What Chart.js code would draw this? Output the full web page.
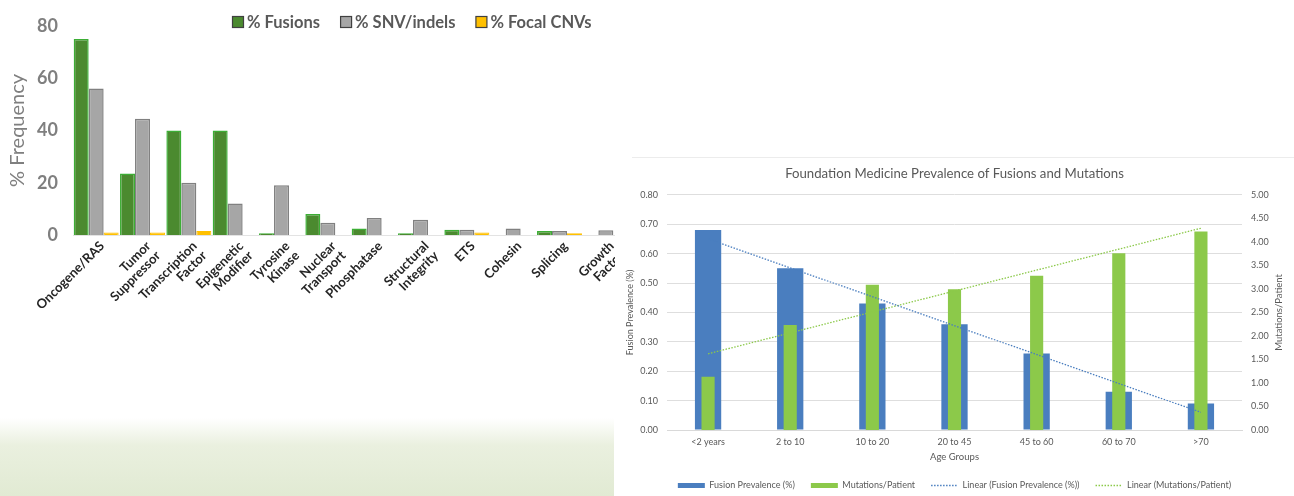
<!DOCTYPE html>
<html>
<head>
<meta charset="utf-8">
<script src="https://cdn.jsdelivr.net/npm/chart.js@4.4.1/dist/chart.umd.min.js"></script>
<style>
  html, body { margin: 0; padding: 0; background: #ffffff; }
  body { width: 1294px; height: 496px; position: relative; overflow: hidden; font-family: Lato, "Open Sans", sans-serif; }
  #grad { position: absolute; left: 0; top: 418px; width: 614px; height: 78px;
          background: linear-gradient(to bottom, rgba(226,235,212,0) 0%, #eaf0df 35%, #e1ead3 100%); }
  #leftWrap { position: absolute; left: 0; top: 0; width: 680px; height: 330px; }
  #rightWrap { position: absolute; left: 615px; top: 150px; width: 679px; height: 350px; background: #ffffff; }
  #rightTopLine { position: absolute; left: 632px; top: 157px; width: 662px; height: 1px; background: #ececec; }
</style>
</head>
<body>
<div id="grad"></div>
<div id="leftWrap"><canvas id="left" width="680" height="330"></canvas></div>
<div id="rightWrap"><canvas id="right" width="679" height="350"></canvas></div>
<div id="rightTopLine"></div>
<script>
// ---------- Left chart data ----------
const pathwayCategories = [
  "Oncogene/RAS", ["Tumor", "Suppressor"], ["Transcription", "Factor"], ["Epigenetic", "Modifier"],
  ["Tyrosine", "Kinase"], ["Nuclear", "Transport"], "Phosphatase", ["Structural", "Integrity"],
  "ETS", "Cohesin", "Splicing", ["Growth", "Factor"]
];
const fusionsPct   = [75, 23.5, 40, 40, 0.7, 8, 2.5, 0.7, 2, 0, 1.5, 0];
const snvIndelsPct = [56, 44.5, 20, 12, 19, 4.7, 6.5, 5.8, 2, 2.5, 1.5, 1.8];
const focalCnvPct  = [1, 1, 1.5, 0, 0, 0, 0, 0, 1, 0, 0.7, 0];
const frequencyTicks = [0, 20, 40, 60, 80];

// ---------- Right chart data ----------
const ageGroups = ["<2 years", "2 to 10", "10 to 20", "20 to 45", "45 to 60", "60 to 70", ">70"];
const fusionPrevalence = [0.68, 0.55, 0.43, 0.36, 0.26, 0.13, 0.09];
const mutationsPerPatient = [1.13, 2.23, 3.09, 2.99, 3.28, 3.76, 4.22];
// trendline end points
const fusionTrend = [0.65, null, null, null, null, null, 0.06];
const mutationTrend = [1.62, null, null, null, null, null, 4.29];

// ---------- Left chart ----------
const freeLegend = {
  id: 'freeLegend',
  afterDraw(chart, args, opts) {
    const ctx = chart.ctx;
    ctx.save();
    ctx.font = 'bold 16.5px Lato';
    ctx.textBaseline = 'middle';
    let x = opts.x;
    const y = opts.y;
    chart.data.datasets.forEach(ds => {
      ctx.fillStyle = ds.backgroundColor;
      ctx.fillRect(x + 0.5, y - 5.5, 11, 11);
      ctx.strokeStyle = '#404040';
      ctx.lineWidth = 1.2;
      ctx.strokeRect(x + 0.5, y - 5.5, 11, 11);
      ctx.fillStyle = '#595959';
      ctx.fillText(ds.label, x + 15, y + 0.5);
      x += 15 + ctx.measureText(ds.label).width + 20;
    });
    ctx.restore();
  }
};

new Chart(document.getElementById('left'), {
  type: 'bar',
  data: {
    labels: pathwayCategories,
    datasets: [
      { label: '% Fusions', data: fusionsPct, backgroundColor: '#4b8a2f', borderColor: '#3cae35', borderWidth: 1.5 },
      { label: '% SNV/indels', data: snvIndelsPct, backgroundColor: '#a6a6a6', borderColor: '#808080', borderWidth: 1.5 },
      { label: '% Focal CNVs', data: focalCnvPct, backgroundColor: '#ffc000', borderColor: '#ffc000', borderWidth: 1 }
    ]
  },
  options: {
    responsive: false,
    animation: false,
    categoryPercentage: 0.97,
    barPercentage: 1,
    layout: { padding: { top: 15, right: 51, left: 0, bottom: 0 } },
    plugins: {
      legend: { display: false },
      tooltip: { enabled: false },
      freeLegend: { x: 232, y: 22 }
    },
    scales: {
      x: {
        grid: { display: false, drawTicks: false },
        border: { display: true, color: '#e3e3e3' },
        ticks: {
          color: '#262626', font: { family: 'Lato', weight: 'bold', size: 13, lineHeight: 1.05 },
          minRotation: 45, maxRotation: 45, autoSkip: false, padding: 4, labelOffset: 6
        },
        afterFit(scale) { scale.height = 95; }
      },
      y: {
        min: 0, max: 80,
        afterBuildTicks(scale) { scale.ticks = frequencyTicks.map(v => ({ value: v })); },
        grid: { display: false, drawTicks: false },
        border: { display: false },
        ticks: { color: '#7f7f7f', font: { family: 'Lato', weight: 'bold', size: 18 }, padding: 15 },
        title: { display: true, text: '% Frequency', color: '#7f7f7f', font: { family: 'Lato', size: 20 }, padding: { top: 6, bottom: 0 } },
        afterFit(scale) { scale.width = 73; }
      }
    }
  },
  plugins: [freeLegend]
});

// ---------- Right chart ----------
const rightAxisTitle = {
  id: 'rightAxisTitle',
  afterDraw(chart, args, opts) {
    const ctx = chart.ctx;
    const area = chart.chartArea;
    ctx.save();
    ctx.translate(opts.x, (area.top + area.bottom) / 2);
    ctx.rotate(-Math.PI / 2);
    ctx.font = '9.5px Lato';
    ctx.fillStyle = '#595959';
    ctx.textAlign = 'center';
    ctx.textBaseline = 'middle';
    ctx.fillText(opts.text, 0, 0);
    ctx.restore();
  }
};

const tickFont = { family: 'Lato', size: 9 };
new Chart(document.getElementById('right'), {
  type: 'bar',
  data: {
    labels: ageGroups,
    datasets: [
      { type: 'bar', label: 'Fusion Prevalence (%)', data: fusionPrevalence, yAxisID: 'y',
        backgroundColor: '#4a7ebf', barPercentage: 0.32, categoryPercentage: 1, grouped: false, order: 4 },
      { type: 'bar', label: 'Mutations/Patient', data: mutationsPerPatient, yAxisID: 'y1',
        backgroundColor: '#8cc94a', barPercentage: 0.16, categoryPercentage: 1, grouped: false, order: 3 },
      { type: 'line', label: 'Linear (Fusion Prevalence (%))', data: fusionTrend, yAxisID: 'y',
        borderColor: '#4a7ebf', borderWidth: 1.3, borderDash: [1.5, 1.5], pointRadius: 0, spanGaps: true, fill: false, order: 1 },
      { type: 'line', label: 'Linear (Mutations/Patient)', data: mutationTrend, yAxisID: 'y1',
        borderColor: '#8cc94a', borderWidth: 1.3, borderDash: [1.5, 1.5], pointRadius: 0, spanGaps: true, fill: false, order: 2 }
    ]
  },
  options: {
    responsive: false,
    animation: false,
    layout: { padding: { top: 16, left: 0, right: 0, bottom: 0 } },
    plugins: {
      tooltip: { enabled: false },
      title: { display: true, text: 'Foundation Medicine Prevalence of Fusions and Mutations',
               color: '#595959', font: { family: 'Lato', size: 13.2, weight: 'normal' }, padding: { top: 0, bottom: 13 } },
      legend: {
        position: 'bottom',
        labels: {
          color: '#595959', font: { family: 'Lato', size: 9 }, usePointStyle: true, pointStyleWidth: 27,
          boxHeight: 5, padding: 16,
          sort: (a, b) => a.datasetIndex - b.datasetIndex,
          generateLabels(chart) {
            const items = Chart.defaults.plugins.legend.labels.generateLabels(chart);
            items.forEach(it => {
              const ds = chart.data.datasets[it.datasetIndex];
              if (ds.type === 'line') {
                it.pointStyle = 'line'; it.lineWidth = 1.3; it.strokeStyle = ds.borderColor; it.lineDash = [1.5, 1.5];
              } else {
                it.pointStyle = 'rect'; it.lineWidth = 0; it.fillStyle = ds.backgroundColor; it.strokeStyle = ds.backgroundColor;
              }
            });
            return items;
          }
        }
      },
      rightAxisTitle: { x: 664, text: 'Mutations/Patient' }
    },
    scales: {
      x: {
        grid: { display: false, drawTicks: false },
        border: { display: true, color: '#d9d9d9' },
        ticks: { color: '#595959', font: tickFont, padding: 7 },
        title: { display: true, text: 'Age Groups', color: '#595959', font: { family: 'Lato', size: 9.5 }, padding: { top: 0, bottom: 2.5 } },
        afterFit(scale) { scale.height = 35; }
      },
      y: {
        position: 'left', min: 0, max: 0.8,
        ticks: { stepSize: 0.1, color: '#595959', font: tickFont, padding: 9, callback: v => Number(v).toFixed(2) },
        grid: { color: '#dedede', drawTicks: false },
        border: { display: false },
        title: { display: true, text: 'Fusion Prevalence (%)', color: '#595959', font: { family: 'Lato', size: 9 }, padding: { top: 10, bottom: 0 } },
        afterFit(scale) { scale.width = 52; }
      },
      y1: {
        position: 'right', min: 0, max: 5,
        ticks: { stepSize: 0.5, color: '#595959', font: tickFont, padding: 9, callback: v => Number(v).toFixed(2) },
        grid: { display: false, drawTicks: false },
        border: { display: false },
        afterFit(scale) { scale.width = 52; }
      }
    }
  },
  plugins: [rightAxisTitle]
});
</script>
</body>
</html>
